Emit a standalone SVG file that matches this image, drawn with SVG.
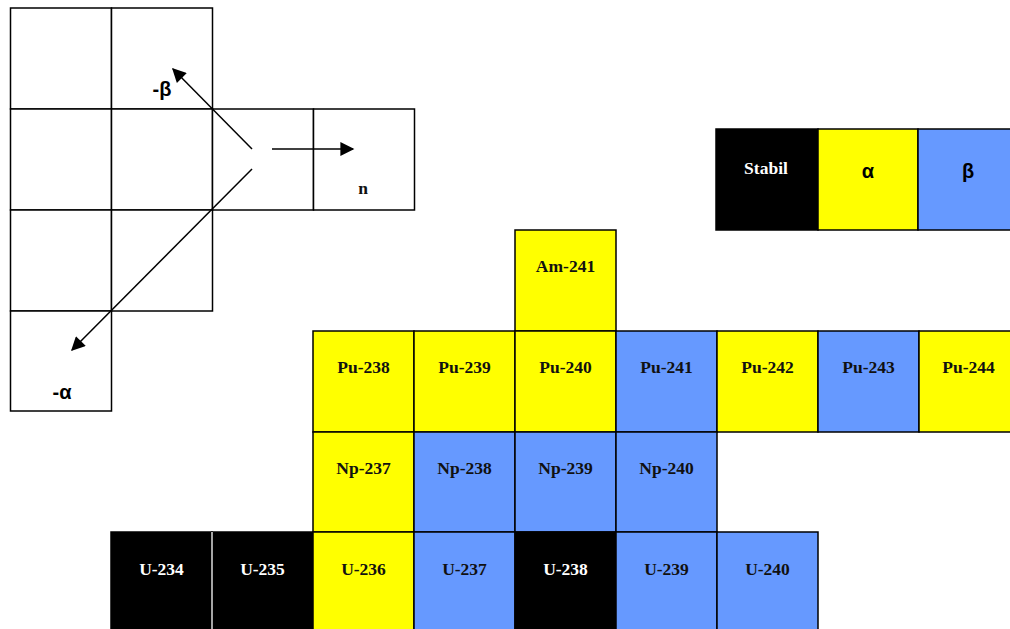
<svg xmlns="http://www.w3.org/2000/svg" width="1010" height="629" viewBox="0 0 1010 629">
  <defs>
    <style>
      .grid { fill: #fff; stroke: #000; stroke-width: 1.5; }
      .st { fill: #000; stroke: #000; stroke-width: 1.5; }
      .al { fill: #ffff00; stroke: #000; stroke-width: 1.5; }
      .be { fill: #6699ff; stroke: #000; stroke-width: 1.5; }
      .lbl { font-family: "Liberation Serif", "DejaVu Serif", serif; font-weight: bold; font-size: 17.5px; text-anchor: middle; fill: #111; }
      .wl { fill: #fff; }
      .gr { font-family: "Liberation Sans", "DejaVu Sans", sans-serif; font-weight: bold; font-size: 20px; text-anchor: middle; fill: #000; }
      .arr { stroke: #000; stroke-width: 1.5; fill: none; marker-end: url(#head); }
    </style>
    <marker id="head" viewBox="0 0 10 10" refX="9" refY="5" markerWidth="16" markerHeight="14" markerUnits="userSpaceOnUse" orient="auto">
      <path d="M0,0 L10,5 L0,10 z" fill="#000"/>
    </marker>
  </defs>

  <!-- decay direction key -->
  <g id="key-grid">
    <rect class="grid" x="10.5" y="8" width="101" height="101"/>
    <rect class="grid" x="111.5" y="8" width="101" height="101"/>
    <rect class="grid" x="10.5" y="109" width="101" height="101"/>
    <rect class="grid" x="111.5" y="109" width="101" height="101"/>
    <rect class="grid" x="212.5" y="109" width="101" height="101"/>
    <rect class="grid" x="313.5" y="109" width="101" height="101"/>
    <rect class="grid" x="10.5" y="210" width="101" height="101"/>
    <rect class="grid" x="111.5" y="210" width="101" height="101"/>
    <rect class="grid" x="10.5" y="311" width="101" height="100"/>
    <text class="gr" x="162" y="96" font-size="19">-β</text>
    <text class="lbl" x="363" y="194" font-size="16">n</text>
    <text class="gr" x="62" y="399" font-size="19">-α</text>
  </g>

  <g id="connectors">
    <line class="arr" x1="252" y1="149" x2="173" y2="69"/>
    <line class="arr" x1="272" y1="149" x2="353" y2="149"/>
    <line class="arr" x1="252" y1="169" x2="72" y2="350"/>
  </g>

  <!-- legend -->
  <g id="legend">
    <rect class="st" x="716" y="129" width="102" height="101"/>
    <rect class="al" x="818" y="129" width="100" height="101"/>
    <rect class="be" x="918" y="129" width="100" height="101"/>
    <text class="lbl wl" x="766" y="174" font-size="19">Stabil</text>
    <text class="gr" x="868" y="178">α</text>
    <text class="gr" x="968" y="178">β</text>
  </g>

  <!-- nuclide chart -->
  <g id="Am-241"><rect class="al" x="515" y="230" width="101" height="101"/><text class="lbl" x="565.5" y="272">Am-241</text></g>

  <g id="Pu-238"><rect class="al" x="313" y="331" width="101" height="101"/><text class="lbl" x="363.5" y="373">Pu-238</text></g>
  <g id="Pu-239"><rect class="al" x="414" y="331" width="101" height="101"/><text class="lbl" x="464.5" y="373">Pu-239</text></g>
  <g id="Pu-240"><rect class="al" x="515" y="331" width="101" height="101"/><text class="lbl" x="565.5" y="373">Pu-240</text></g>
  <g id="Pu-241"><rect class="be" x="616" y="331" width="101" height="101"/><text class="lbl" x="666.5" y="373">Pu-241</text></g>
  <g id="Pu-242"><rect class="al" x="717" y="331" width="101" height="101"/><text class="lbl" x="767.5" y="373">Pu-242</text></g>
  <g id="Pu-243"><rect class="be" x="818" y="331" width="101" height="101"/><text class="lbl" x="868.5" y="373">Pu-243</text></g>
  <g id="Pu-244"><rect class="al" x="919" y="331" width="101" height="101"/><text class="lbl" x="968.5" y="373">Pu-244</text></g>

  <g id="Np-237"><rect class="al" x="313" y="432" width="101" height="100"/><text class="lbl" x="363.5" y="474">Np-237</text></g>
  <g id="Np-238"><rect class="be" x="414" y="432" width="101" height="100"/><text class="lbl" x="464.5" y="474">Np-238</text></g>
  <g id="Np-239"><rect class="be" x="515" y="432" width="101" height="100"/><text class="lbl" x="565.5" y="474">Np-239</text></g>
  <g id="Np-240"><rect class="be" x="616" y="432" width="101" height="100"/><text class="lbl" x="666.5" y="474">Np-240</text></g>

  <g id="U-234"><rect class="st" x="111" y="532" width="101" height="101" stroke="#444"/><text class="lbl wl" x="161.5" y="575">U-234</text></g>
  <g id="U-235"><rect class="st" x="212" y="532" width="101" height="101" stroke="#444"/><text class="lbl wl" x="262.5" y="575">U-235</text></g>
  <line x1="212" y1="532" x2="212" y2="629" stroke="#ddd" stroke-width="1.5"/>
  <g id="U-236"><rect class="al" x="313" y="532" width="101" height="101"/><text class="lbl" x="363.5" y="575">U-236</text></g>
  <g id="U-237"><rect class="be" x="414" y="532" width="101" height="101"/><text class="lbl" x="464.5" y="575">U-237</text></g>
  <g id="U-238"><rect class="st" x="515" y="532" width="101" height="101"/><text class="lbl wl" x="565.5" y="575">U-238</text></g>
  <g id="U-239"><rect class="be" x="616" y="532" width="101" height="101"/><text class="lbl" x="666.5" y="575">U-239</text></g>
  <g id="U-240"><rect class="be" x="717" y="532" width="101" height="101"/><text class="lbl" x="767.5" y="575">U-240</text></g>
</svg>
